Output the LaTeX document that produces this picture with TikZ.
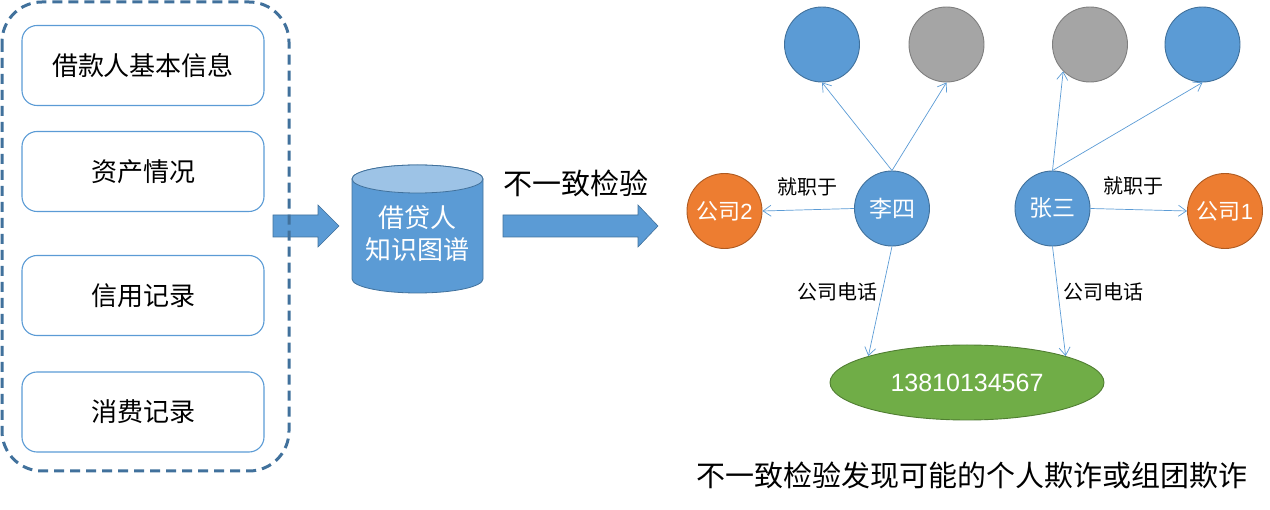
\documentclass[tikz,border=0pt]{standalone}
\usepackage{fontspec}
\setmainfont{Noto Sans CJK SC}
\newfontfamily\digitfont{Liberation Sans}
\usetikzlibrary{arrows.meta,shapes.geometric}
\definecolor{nblue}{HTML}{5B9BD5}
\definecolor{nbord}{HTML}{41719C}
\definecolor{ngray}{HTML}{A5A5A5}
\definecolor{ngbord}{HTML}{7F7F7F}
\definecolor{norange}{HTML}{ED7D31}
\definecolor{nobord}{HTML}{AE5A21}
\definecolor{ngreen}{HTML}{70AD47}
\definecolor{ngrbord}{HTML}{507E32}
\definecolor{ctop}{HTML}{9DC3E6}
\begin{document}
\begin{tikzpicture}[x=1pt,y=-1pt,
  infobox/.style={draw=nblue,line width=1.1pt,rounded corners=15pt,minimum width=242pt,minimum height=80pt,font=\fontsize{26}{30}\selectfont},
  ent/.style={circle,minimum size=75pt,inner sep=0pt,line width=0.9pt,text=white,font=\fontsize{23}{26}\selectfont},
  bluec/.style={ent,fill=nblue,draw=nbord},
  grayc/.style={ent,fill=ngray,draw=ngbord},
  orangec/.style={ent,fill=norange,draw=nobord,font=\fontsize{22}{26}\selectfont},
  rel/.style={draw=nblue,line width=0.7pt,-{Straight Barb[length=8pt,width=11pt]}},
  lbl/.style={font=\fontsize{20}{24}\selectfont,inner sep=0pt},
  blockarrow/.style={fill=nblue,draw=nbord,line width=0.6pt}
]
\useasboundingbox (0,0) rectangle (1270,510);
% left info boxes
\node[infobox] (b1) at (143,65.5) {借款人基本信息};
\node[infobox] (b2) at (143,171.5) {资产情况};
\node[infobox] (b3) at (143,295.5) {信用记录};
\node[infobox] (b4) at (143,412) {消费记录};
% block arrow 1
\draw[blockarrow] (273,215)--(318,215)--(318,205)--(339,226)--(318,247)--(318,237)--(273,237)--cycle;
% dashed container
\draw[draw=nbord,line width=3pt,dash pattern=on 10pt off 6pt,rounded corners=40pt] (2,2) rectangle (289,471);
% cylinder
\draw[fill=nblue,draw=nbord,line width=0.8pt] (352,179) -- (352,279) arc[start angle=180,end angle=360,x radius=65.5pt,y radius=14pt] -- (483,179) arc[start angle=0,end angle=180,x radius=65.5pt,y radius=14pt] -- cycle;
\draw[fill=ctop,draw=nbord,line width=0.8pt] (417.5,179) ellipse[x radius=65.5pt,y radius=14pt];
\node[text=white,align=center,font=\fontsize{26}{32}\selectfont,inner sep=0pt] (kg) at (417.5,234) {借贷人\\知识图谱};
% block arrow 2
\draw[blockarrow] (503,215)--(638,215)--(638,205)--(658,226)--(638,247)--(638,237)--(503,237)--cycle;
\node[font=\fontsize{29}{32}\selectfont,inner sep=0pt] (chk) at (576,183) {不一致检验};
% graph
\node[bluec] (c1) at (822,44.5) {};
\node[grayc] (c2) at (946.5,44.5) {};
\node[grayc] (c3) at (1090,44.5) {};
\node[bluec] (c4) at (1202.5,44.5) {};
\node[bluec] (lisi) at (892,208.5) {李四};
\node[bluec] (zhang) at (1052.5,208.5) {张三};
\node[orangec] (co2) at (724.5,211) {公司{\digitfont 2}};
\node[orangec] (co1) at (1225,211) {公司{\digitfont 1}};
\node[ellipse,fill=ngreen,draw=ngrbord,line width=0.9pt,minimum width=274pt,minimum height=75pt,inner sep=0pt,text=white,font=\digitfont\fontsize{25}{28}\selectfont] (phone) at (967,382.5) {13810134567};
\draw[rel] (lisi.north) -- (c1.south);
\draw[rel] (lisi.north) -- (c2.south);
\draw[rel] (zhang.north) -- (c3.south west);
\draw[rel] (zhang.north) -- (c4.south);
\draw[rel] (lisi.west) -- (co2.east);
\draw[rel] (zhang.east) -- (co1.west);
\draw[rel] (lisi.south) -- (phone.165);
\draw[rel] (zhang.south) -- (phone.15);
\node[lbl] (l1) at (807,187) {就职于};
\node[lbl] (l2) at (1133,186) {就职于};
\node[lbl] (l3) at (837,292) {公司电话};
\node[lbl] (l4) at (1103,292) {公司电话};
\node[font=\fontsize{29}{32}\selectfont,inner sep=0pt] (cap) at (972,475) {不一致检验发现可能的个人欺诈或组团欺诈};
\end{tikzpicture}
\end{document}
